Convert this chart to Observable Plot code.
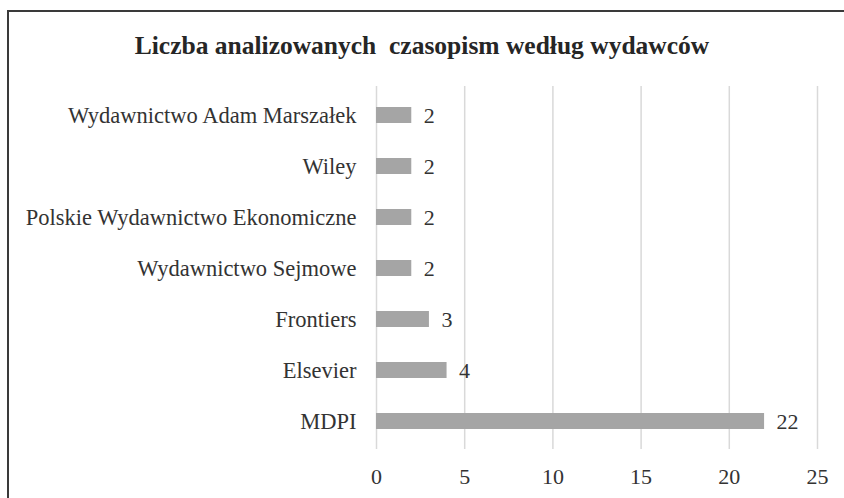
<!DOCTYPE html>
<html>
<head>
<meta charset="utf-8">
<script src="https://cdn.jsdelivr.net/npm/d3@7"></script>
<script src="https://cdn.jsdelivr.net/npm/@observablehq/plot@0.6"></script>
<style>
  html, body { margin: 0; padding: 0; background: #fff; }
  #wrap { position: relative; width: 844px; height: 498px; overflow: hidden; background: #fff; }
  #frame { position: absolute; left: 7px; top: 10px; width: 900px; height: 600px;
           border-left: 2px solid #3a3a3a; border-top: 2px solid #3a3a3a; box-sizing: border-box; }
  #title { position: absolute; left: 0; width: 844px; top: 31px; text-align: center;
           font-family: "Liberation Serif", serif; font-weight: bold; font-size: 25.5px; color: #262626; }
  #chart { position: absolute; left: 0; top: 0; }
  #chart svg, #chart svg text { font-family: "Liberation Serif", serif !important; }
</style>
</head>
<body>
<div id="wrap">
  <div id="frame"></div>
  <div id="title">Liczba analizowanych&nbsp; czasopism według wydawców</div>
  <div id="chart"></div>
</div>
<script>
const publishers = [
  "Wydawnictwo Adam Marszałek",
  "Wiley",
  "Polskie Wydawnictwo Ekonomiczne",
  "Wydawnictwo Sejmowe",
  "Frontiers",
  "Elsevier",
  "MDPI"
];
const counts = [2, 2, 2, 2, 3, 4, 22];
const xTicks = [0, 5, 10, 15, 20, 25];

const data = publishers.map((p, i) => ({publisher: p, count: counts[i]}));
const serif = "Liberation Serif, serif";

const chart = Plot.plot({
  width: 844,
  height: 498,
  marginLeft: 376,
  marginRight: 27,
  marginTop: 86,
  marginBottom: 49,
  style: {fontFamily: serif, fontSize: "22px", color: "#333", background: "transparent"},
  x: {domain: [0, 25]},
  y: {domain: publishers, paddingInner: 0.69, paddingOuter: 0.345},
  marks: [
    Plot.gridX(xTicks, {stroke: "#d9d9d9", strokeOpacity: 1, strokeWidth: 1.5}),
    Plot.barX(data, {x: "count", y: "publisher", fill: "#a5a5a5"}),
    Plot.text(data, {x: "count", y: "publisher", text: d => String(d.count), textAnchor: "start", dx: 12, fill: "#333", fontSize: 22, fontFamily: serif}),
    Plot.axisX(xTicks, {tickSize: 0, tickPadding: 19, label: null, fontSize: 22, fontFamily: serif, fill: "#333"}),
    Plot.axisY({tickSize: 0, tickPadding: 20, label: null, fontSize: 22.5, fontFamily: serif, fill: "#333"})
  ]
});
document.getElementById("chart").appendChild(chart);
</script>
</body>
</html>
